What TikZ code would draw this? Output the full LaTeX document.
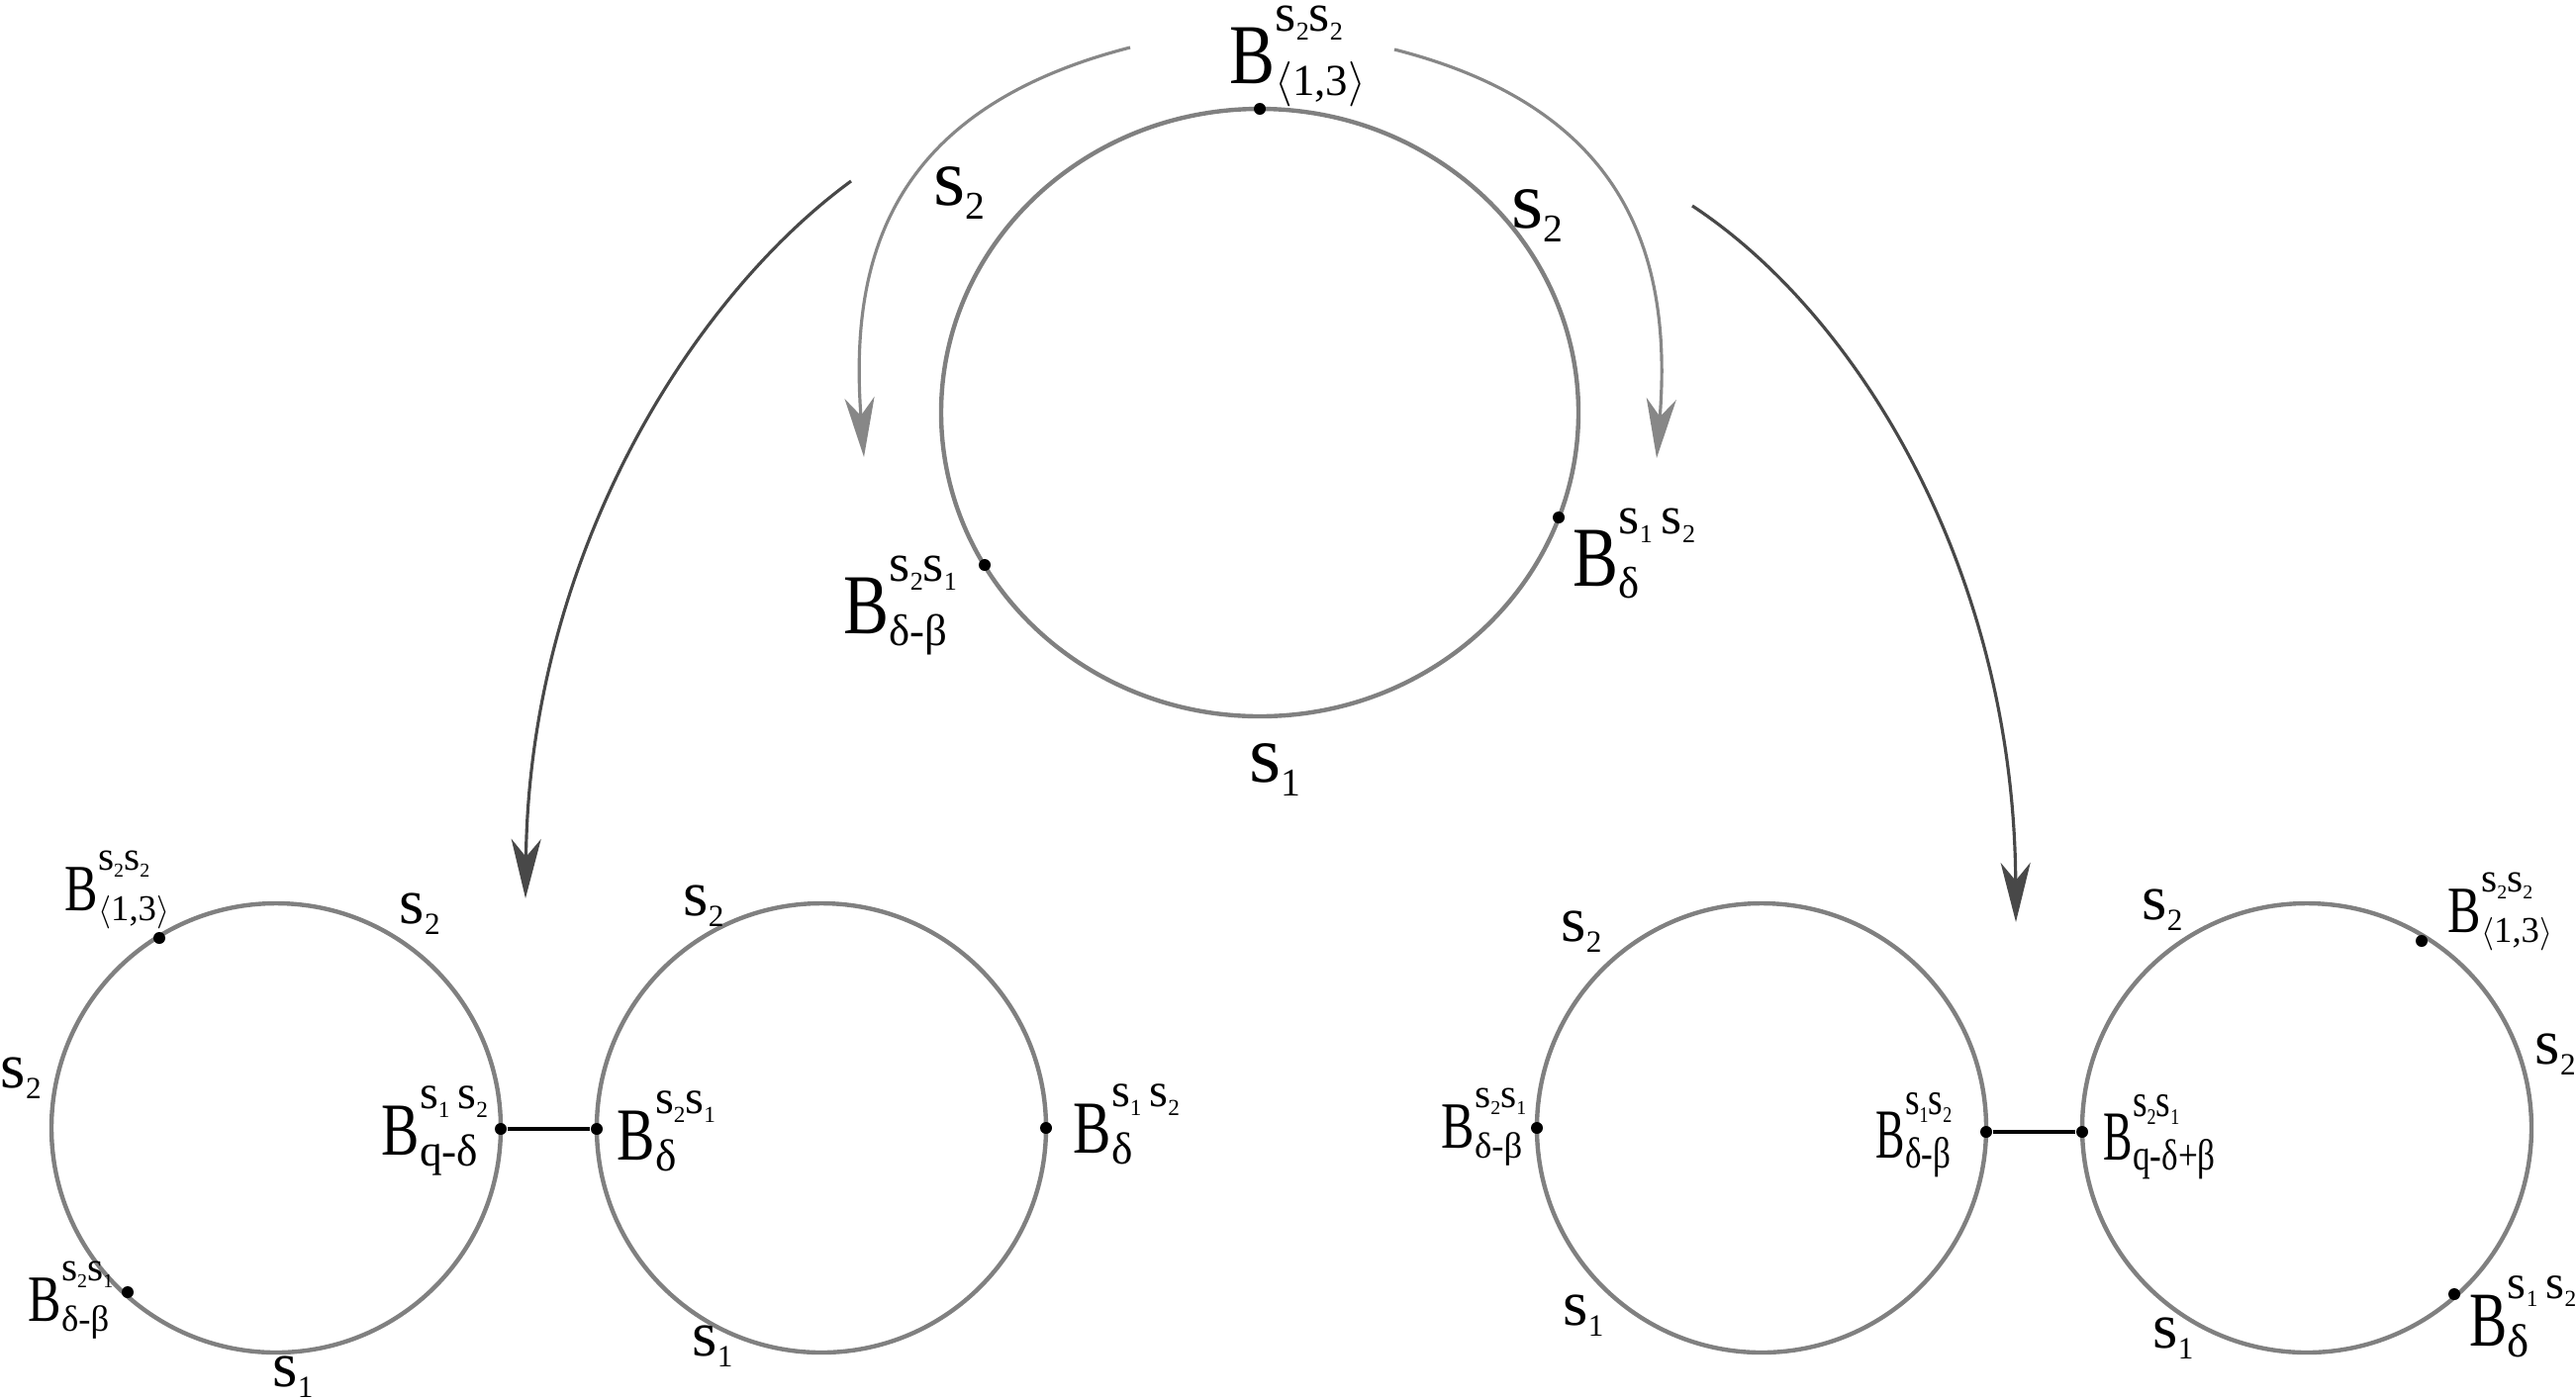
\documentclass[tikz,border=0pt]{standalone}
\usepackage{fontspec}
\usepackage{graphicx}
\setmainfont{Liberation Serif}
\usetikzlibrary{arrows.meta, calc}
\definecolor{ringgray}{RGB}{128,128,128}
\definecolor{flowlight}{RGB}{135,135,135}
\definecolor{flowdark}{RGB}{72,72,72}
% s with a small index
\newcommand{\sx}[1]{s\raisebox{-0.17em}{\scalebox{0.48}{#1}}}
% B with upper and lower index (B width, upper size, lower size, index width)
\newcommand{\blx}{0.78}
\newcommand{\blku}{0.6}
\newcommand{\blk}{0.55}
\newcommand{\bls}{1}
\newcommand{\blab}[2]{\scalebox{\blx}[1]{B}%
  \sbox0{\scalebox{\blku}{#1}}\sbox2{\scalebox{\blk}{#2}}%
  \scalebox{\bls}[1]{\rlap{\raisebox{0.61em}{\usebox0}}\raisebox{-0.15em}{\usebox2}%
  \ifdim\wd0>\wd2 \hspace{\dimexpr\wd0-\wd2\relax}\fi}}
\newcommand{\ang}{$\langle$1,3$\rangle$}

\begin{document}
\begin{tikzpicture}[x=0.01cm, y=-0.01cm,
  ring/.style={draw=ringgray, line width=1.25pt},
  dot/.style={circle, fill=black, inner sep=0pt, minimum size=0.12cm},
  lab/.style={inner sep=0pt, anchor=base west},
  toplab/.style={lab, font=\fontsize{24.5}{30}\selectfont\renewcommand\blx{0.8}\renewcommand\blku{0.63}\renewcommand\blk{0.52}},
  tops/.style={lab, font=\fontsize{23.5}{28}\selectfont},
  midlab/.style={lab, font=\fontsize{21.5}{26}\selectfont\renewcommand\blx{0.76}\renewcommand\blku{0.64}\renewcommand\blk{0.6}},
  smalllab/.style={lab, font=\fontsize{19}{23}\selectfont\renewcommand\blx{0.75}\renewcommand\blku{0.62}\renewcommand\blk{0.55}},
  innerlab/.style={lab, font=\fontsize{20.2}{24}\selectfont\renewcommand\blx{0.62}\renewcommand\blku{0.66}\renewcommand\blk{0.62}\renewcommand\bls{0.8}},
  bigdlab/.style={lab, font=\fontsize{22.3}{26}\selectfont\renewcommand\blx{0.73}\renewcommand\blku{0.62}\renewcommand\blk{0.6}},
  lows/.style={inner sep=0pt, font=\fontsize{18.5}{22}\selectfont},
  flow/.style={line width=0.9pt, -{Stealth[length=0.6cm,width=0.3cm,inset=0.18cm]}}]
  \useasboundingbox (0,0) rectangle (2603,1414);

  % Top ring
  \coordinate (top) at (1273,417);
  \draw[ring] (top) ellipse [x radius=322, y radius=307];
  \node[dot] (t13) at (1273,110) {};
  \node[dot] (tdb) at (995,571) {};
  \node[dot] (td) at (1575,523) {};
  \node[toplab] (t13lab) at (1242,84) {\blab{\sx2\sx2}{\ang}};
  \node[toplab] (tdblab) at (852,640) {\blab{\sx2\sx1}{δ-β}};
  \node[toplab] (tdlab) at (1589,592) {\blab{\sx1\,\sx2}{δ}};
  \node[tops] (ts2a) at (943,207) {\sx2};
  \node[tops] (ts2b) at (1527,230) {\sx2};
  \node[tops] (ts1) at (1262,790) {\sx1};

  % Arrows
  \coordinate (fa1) at (1142,48);  \coordinate (fa2) at (873,462);
  \coordinate (fb1) at (1409,50);  \coordinate (fb2) at (1674,463);
  \coordinate (fc1) at (860,183);  \coordinate (fc2) at (531,908);
  \coordinate (fd1) at (1710,208); \coordinate (fd2) at (2037,932);
  \draw[flow, flowlight] (fa1) .. controls (900,110) and (858,260) .. (fa2);
  \draw[flow, flowlight] (fb1) .. controls (1645,110) and (1690,260) .. (fb2);
  \draw[flow, flowdark] (fc1) .. controls (700,300) and (535,560) .. (fc2);
  \draw[flow, flowdark] (fd1) .. controls (1880,320) and (2035,580) .. (fd2);

  % Bottom left pair
  \coordinate (la) at (279,1140);
  \coordinate (lb) at (830,1140);
  \draw[ring] (la) circle [radius=227];
  \draw[ring] (lb) circle [radius=227];
  \node[dot] (la13) at (161,948) {};
  \node[dot] (ladb) at (129,1306) {};
  \node[dot] (laqd) at (506,1141) {};
  \node[dot] (lbd) at (603,1141) {};
  \node[dot] (lbdr) at (1057,1140) {};
  \draw[line width=1pt] (laqd) -- (lbd);
  \node[smalllab] (la13lab) at (65,920) {\blab{\sx2\sx2}{\ang}};
  \node[smalllab] (ladblab) at (28,1335) {\blab{\sx2\sx1}{δ-β}};
  \node[midlab] (laqdlab) at (385,1167) {\blab{\sx1\,\sx2}{q-δ}};
  \node[midlab] (lbdlab) at (623,1172) {\blab{\sx2\sx1}{δ}};
  \node[midlab] (lbdrlab) at (1084,1165) {\blab{\sx1\,\sx2}{δ}};
  \node[lows, anchor=base west] (las2a) at (403,933) {\sx2};
  \node[lows, anchor=west] (las2b) at (0,1090) {\sx2};
  \node[lows] (las1) at (296,1392) {\sx1};
  \node[lows] (lbs2) at (711,916) {\sx2};
  \node[lows] (lbs1) at (720,1361) {\sx1};

  % Bottom right pair
  \coordinate (ra) at (1780,1140);
  \coordinate (rb) at (2331,1140);
  \draw[ring] (ra) circle [radius=227];
  \draw[ring] (rb) circle [radius=227];
  \node[dot] (radb) at (1553,1140) {};
  \node[dot] (radbr) at (2007,1144) {};
  \node[dot] (rbqd) at (2104,1144) {};
  \node[dot] (rb13) at (2447,951) {};
  \node[dot] (rbd) at (2480,1308) {};
  \draw[line width=1pt] (radbr) -- (rbqd);
  \node[smalllab] (radblab) at (1456,1160) {\blab{\sx2\sx1}{δ-β}};
  \node[innerlab] (radbrlab) at (1895,1170) {\blab{\sx1\sx2}{δ-β}};
  \node[innerlab] (rbqdlab) at (2125,1172) {\blab{\sx2\sx1}{q-δ+β}};
  \node[smalllab] (rb13lab) at (2473,942) {\blab{\sx2\sx2}{\ang}};
  \node[bigdlab] (rbdlab) at (2495,1360) {\blab{\sx1\,\sx2}{δ}};
  \node[lows] (ras2) at (1598,942) {\sx2};
  \node[lows] (ras1) at (1600,1330) {\sx1};
  \node[lows] (rbs2a) at (2185,920) {\sx2};
  \node[lows, anchor=west] (rbs2b) at (2561,1066) {\sx2};
  \node[lows] (rbs1) at (2196,1353) {\sx1};
\end{tikzpicture}
\end{document}
